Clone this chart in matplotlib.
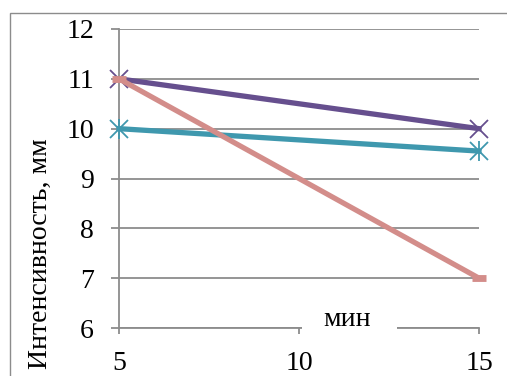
import matplotlib
matplotlib.use("Agg")
import matplotlib.pyplot as plt
from matplotlib.patches import Rectangle

x_vals = [5, 15]
series_purple = [11, 10]
series_teal = [10, 9.55]
series_pink = [11, 7]
x_ticks = [5, 10, 15]
y_ticks = [6, 7, 8, 9, 10, 11, 12]
y_label = "Интенсивность, мм"
x_label = "мин"

plt.rcParams['font.family'] = ['Liberation Serif', 'DejaVu Serif']
FS = 20

W, H = 507, 376
fig = plt.figure(figsize=(W / 100, H / 100), dpi=100)
fig.patch.set_facecolor('white')

# chart area border
fig.patches.append(Rectangle((10 / W, -0.1), 1.2, (H - 13) / H + 0.1,
                             transform=fig.transFigure, facecolor='none',
                             edgecolor='#8c8c8c', linewidth=1.0))

ax = fig.add_axes([119 / W, (H - 328) / H, 360 / W, 299 / H])
ax.set_facecolor('none')
grid_c = '#8c8c8c'
ax.set_xlim(5, 15)
ax.set_ylim(6, 12)
ax.set_xticks(x_ticks)
ax.set_yticks(y_ticks)
for s in ['top', 'right']:
    ax.spines[s].set_visible(False)
for s in ['left', 'bottom']:
    ax.spines[s].set_color(grid_c)
    ax.spines[s].set_linewidth(1.3)
ax.yaxis.grid(True, color=grid_c, linewidth=1.3)
ax.set_axisbelow(True)
ax.tick_params(axis='y', length=6, width=1.3, color=grid_c, pad=12, labelsize=FS)
ax.tick_params(axis='x', length=4.5, width=1.3, color=grid_c, pad=12, labelsize=FS)

lw = 3.8
ax.plot(x_vals, series_purple, color='#664f8e', linewidth=lw, marker='x',
        markersize=13, markeredgewidth=1.3, clip_on=False, zorder=3)
ax.plot(x_vals, series_teal, color='#3f98ae', linewidth=lw, marker='x',
        markersize=13, markeredgewidth=1.3, clip_on=False, zorder=3)
ax.plot(x_vals, series_teal, linestyle='none', color='#3f98ae', marker='|',
        markersize=15, markeredgewidth=1.3, clip_on=False, zorder=3)
ax.plot(x_vals, series_pink, color='#d38d8a', linewidth=lw, marker='_',
        markersize=10, markeredgewidth=lw * 1.3, clip_on=False, zorder=4,
        solid_capstyle='butt')

fig.text(40 / W, 1 - 254 / H, y_label, rotation=90, ha='center', va='center',
         fontsize=FS)
# white gap around x label on axis
fig.patches.append(Rectangle((302 / W, 1 - 334 / H), 95 / W, 30 / H,
                             transform=fig.transFigure, facecolor='white',
                             edgecolor='none', zorder=5))
t = fig.text(347 / W, 1 - 319 / H, x_label, ha='center', va='center', fontsize=FS)
t.set_zorder(6)

fig.savefig('out.png', dpi=100)
